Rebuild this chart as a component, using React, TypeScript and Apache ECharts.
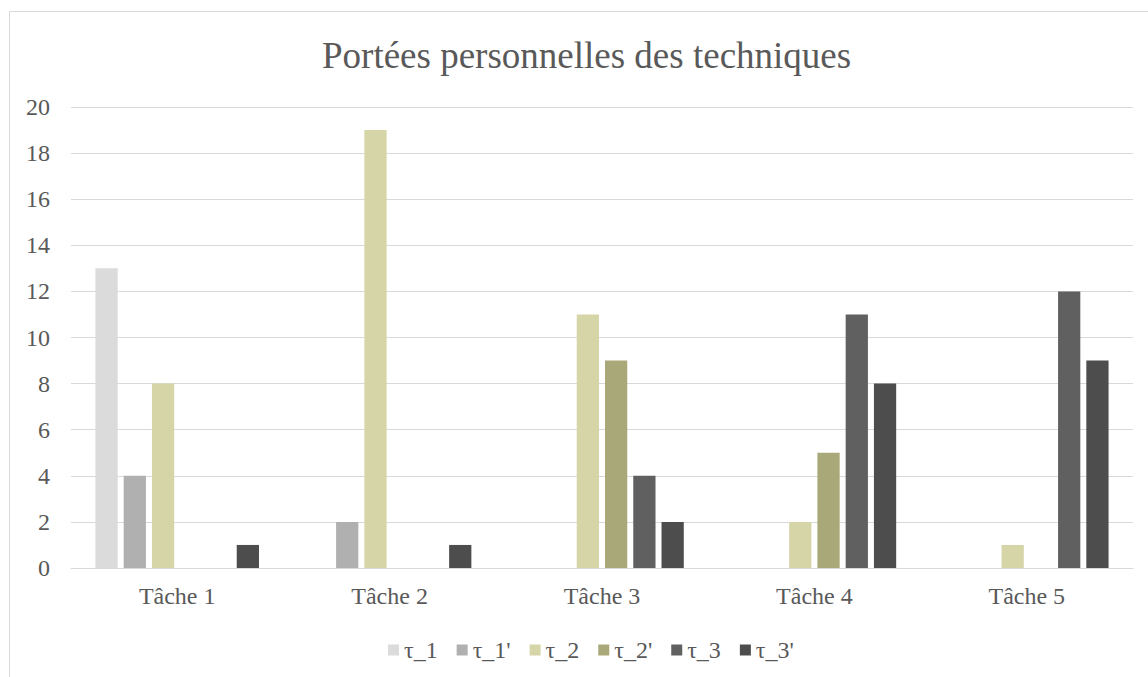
import React, { useEffect, useRef } from "react";
import * as echarts from "echarts";

const categories = ["Tâche 1", "Tâche 2", "Tâche 3", "Tâche 4", "Tâche 5"];
const seriesNames = ["τ_1", "τ_1'", "τ_2", "τ_2'", "τ_3", "τ_3'"];
const tau1 = [13, 0, 0, 0, 0];
const tau1p = [4, 2, 0, 0, 0];
const tau2 = [8, 19, 11, 2, 1];
const tau2p = [0, 0, 9, 5, 0];
const tau3 = [0, 0, 4, 11, 12];
const tau3p = [1, 1, 2, 8, 9];
const colors = ["#DBDBDB", "#B0B0B0", "#D6D5A8", "#A9A878", "#606060", "#4D4D4D"];

const FONT = "'Liberation Serif', 'Times New Roman', serif";

export default function App() {
  const ref = useRef<HTMLDivElement>(null);
  useEffect(() => {
    document.body.style.margin = "0";
    const chart = echarts.init(ref.current!, null, { renderer: "svg" });
    const values = [tau1, tau1p, tau2, tau2p, tau3, tau3p];
    chart.setOption({
      animation: false,
      backgroundColor: "#ffffff",
      title: {
        text: "Portées personnelles des techniques",
        left: 317,
        top: 32,
        textStyle: { fontFamily: FONT, fontSize: 37, fontWeight: "normal", color: "#595959" },
      },
      graphic: [
        {
          type: "rect",
          shape: { x: 9.5, y: 11.5, width: 1200, height: 700 },
          style: { fill: "none", stroke: "#D9D9D9", lineWidth: 1 },
          silent: true,
        },
      ],
      legend: {
        top: 633,
        left: 383,
        itemWidth: 11,
        itemHeight: 11,
        itemGap: 19,
        icon: "rect",
        textStyle: { fontFamily: FONT, fontSize: 24, color: "#595959" },
        data: seriesNames,
      },
      grid: { left: 71, right: 15, top: 107, bottom: 109, containLabel: false },
      xAxis: {
        type: "category",
        data: categories,
        axisLine: { lineStyle: { color: "#D9D9D9", width: 1 } },
        axisTick: { show: false },
        axisLabel: { fontFamily: FONT, fontSize: 24, color: "#595959", margin: 16 },
      },
      yAxis: {
        type: "value",
        min: 0,
        max: 20,
        interval: 2,
        axisLine: { show: false },
        axisTick: { show: false },
        splitLine: { lineStyle: { color: "#D9D9D9", width: 1 } },
        axisLabel: { fontFamily: FONT, fontSize: 24, color: "#595959", margin: 21 },
      },
      series: seriesNames.map((name, i) => ({
        name,
        type: "bar",
        data: values[i],
        barGap: "27%",
        barCategoryGap: "23%",
        itemStyle: { color: colors[i] },
      })),
    });
    return () => chart.dispose();
  }, []);
  return <div ref={ref} style={{ width: 1148, height: 677 }} />;
}
